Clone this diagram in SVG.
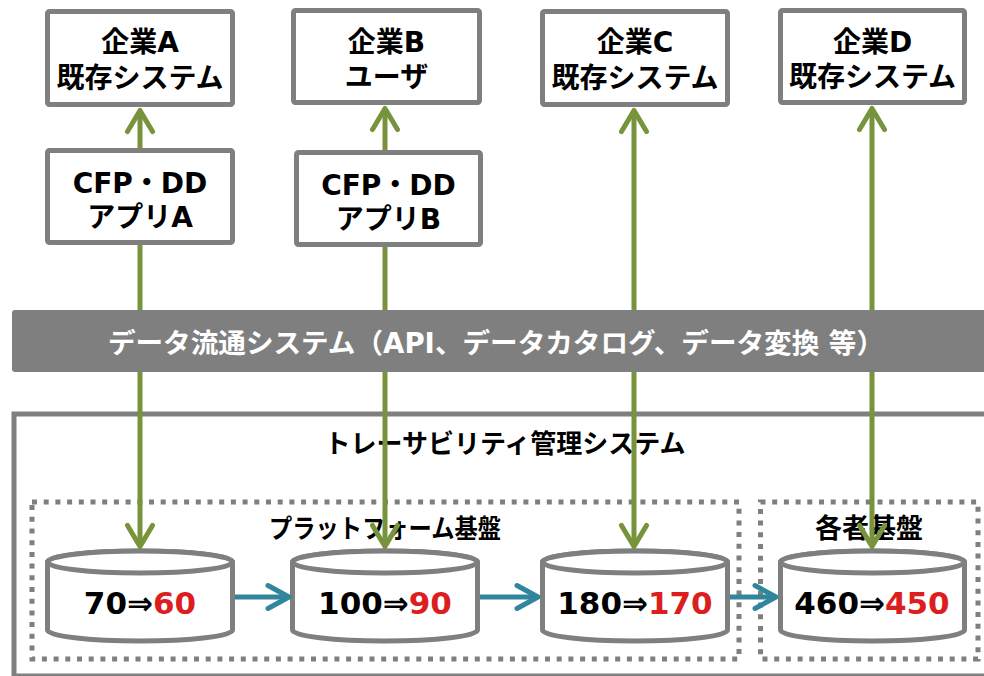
<svg xmlns="http://www.w3.org/2000/svg" width="984" height="676" viewBox="0 0 984 676">
<defs>
<style>
.t{font-family:"DejaVu Sans","Noto Sans CJK JP",sans-serif;font-weight:bold;fill:#000;text-anchor:middle}
.box{fill:#fff;stroke:#7f7f7f;stroke-width:5}
.cyl{fill:#fff;stroke:#7f7f7f;stroke-width:5}
.dot{fill:none;stroke:#7f7f7f;stroke-width:5;stroke-dasharray:5 6.7}
.g{fill:none;stroke:#77933c;stroke-width:5}
.b{fill:none;stroke:#31859c;stroke-width:5}
.red{fill:#dc1e1e}
</style>
<marker id="ahG" viewBox="-25 -15 30 30" markerWidth="30" markerHeight="30" markerUnits="userSpaceOnUse" refX="0" refY="0" orient="auto-start-reverse" overflow="visible">
<path d="M-19,-12.5 L2,0 L-19,12.5" fill="none" stroke="#77933c" stroke-width="5" stroke-linecap="round" stroke-linejoin="round"/>
</marker>
<marker id="ahB" viewBox="-25 -15 30 30" markerWidth="30" markerHeight="30" markerUnits="userSpaceOnUse" refX="0" refY="0" orient="auto" overflow="visible">
<path d="M-19,-11.5 L2,0 L-19,11.5" fill="none" stroke="#31859c" stroke-width="5" stroke-linecap="round" stroke-linejoin="round"/>
</marker>
</defs>
<rect width="984" height="676" fill="#fff"/>

<g id="traceability">
<rect x="14" y="414" width="1000" height="262" fill="#fff" stroke="#7f7f7f" stroke-width="5"/>
<text class="t" x="505" y="453" font-size="26">トレーサビリティ管理システム</text>
</g>

<g id="platform">
<rect class="dot" x="32" y="502" width="707" height="157"/>
<text class="t" x="385" y="538" font-size="26" textLength="232" lengthAdjust="spacingAndGlyphs">プラットフォーム基盤</text>
</g>

<g id="individual">
<rect class="dot" x="760.5" y="502" width="217.5" height="157"/>
<text class="t" x="869" y="538" font-size="27">各者基盤</text>
</g>

<g id="db1">
<path class="cyl" d="M47.5 562 L47.5 630 A92.5 11 0 0 0 232.5 630 L232.5 562 A92.5 11 0 0 0 47.5 562 Z"/>
<ellipse class="cyl" cx="140" cy="562" rx="92.5" ry="11"/>
<text class="t" x="140" y="614" font-size="31">70⇒<tspan class="red">60</tspan></text>
</g>
<g id="db2">
<path class="cyl" d="M292.5 562 L292.5 630 A92.5 11 0 0 0 477.5 630 L477.5 562 A92.5 11 0 0 0 292.5 562 Z"/>
<ellipse class="cyl" cx="385" cy="562" rx="92.5" ry="11"/>
<text class="t" x="385" y="614" font-size="31">100⇒<tspan class="red">90</tspan></text>
</g>
<g id="db3">
<path class="cyl" d="M542.5 562 L542.5 630 A92.5 11 0 0 0 727.5 630 L727.5 562 A92.5 11 0 0 0 542.5 562 Z"/>
<ellipse class="cyl" cx="635" cy="562" rx="92.5" ry="11"/>
<text class="t" x="635" y="614" font-size="31">180⇒<tspan class="red">170</tspan></text>
</g>
<g id="db4">
<path class="cyl" d="M780.5 562 L780.5 630 A92 11 0 0 0 964.5 630 L964.5 562 A92 11 0 0 0 780.5 562 Z"/>
<ellipse class="cyl" cx="872.5" cy="562" rx="92" ry="11"/>
<text class="t" x="872" y="614" font-size="31">460⇒<tspan class="red">450</tspan></text>
</g>

<g id="compA">
<rect class="box" x="47.5" y="11.5" width="185" height="93" rx="2"/>
<text class="t" x="140" y="52" font-size="28">企業A</text>
<text class="t" x="140" y="88" font-size="28">既存システム</text>
</g>
<g id="compB">
<rect class="box" x="293.5" y="10.5" width="186" height="92" rx="2"/>
<text class="t" x="386.5" y="52" font-size="28">企業B</text>
<text class="t" x="386.5" y="87" font-size="28">ユーザ</text>
</g>
<g id="compC">
<rect class="box" x="542.5" y="11.5" width="185" height="93" rx="2"/>
<text class="t" x="635" y="52" font-size="28">企業C</text>
<text class="t" x="635" y="88" font-size="28">既存システム</text>
</g>
<g id="compD">
<rect class="box" x="780.5" y="10.5" width="184" height="92" rx="2"/>
<text class="t" x="872.5" y="52" font-size="28">企業D</text>
<text class="t" x="872.5" y="87" font-size="28">既存システム</text>
</g>

<g id="appA">
<rect class="box" x="47.5" y="150.5" width="185" height="92" rx="2"/>
<text class="t" x="140" y="193" font-size="28">CFP・DD</text>
<text class="t" x="140" y="227" font-size="28">アプリA</text>
</g>
<g id="appB">
<rect class="box" x="296.5" y="152.5" width="184" height="92" rx="2"/>
<text class="t" x="388.5" y="195" font-size="28">CFP・DD</text>
<text class="t" x="388.5" y="229" font-size="28">アプリB</text>
</g>

<g id="connectors">
<path class="g" d="M140 148 L140 112.5" marker-end="url(#ahG)"/>
<path class="g" d="M140 245 L140 544.5" marker-end="url(#ahG)"/>
<path class="g" d="M385 150 L385 110.5" marker-end="url(#ahG)"/>
<path class="g" d="M385 247 L385 544.5" marker-end="url(#ahG)"/>
<path class="g" d="M634 112.5 L634 544.5" marker-start="url(#ahG)" marker-end="url(#ahG)"/>
<path class="g" d="M872 110.5 L872 544.5" marker-start="url(#ahG)" marker-end="url(#ahG)"/>
<path class="b" d="M235 597 L287 597" marker-end="url(#ahB)"/>
<path class="b" d="M480 597 L536 597" marker-end="url(#ahB)"/>
<path class="b" d="M730 597 L774 597" marker-end="url(#ahB)"/>
</g>

<g id="dataBus">
<rect x="12" y="310" width="990" height="62" rx="3" fill="#7f7f7f"/>
<text class="t" x="496" y="353" font-size="27.6" style="fill:#fff">データ流通システム（API、データカタログ、データ変換 等）</text>
</g>
</svg>
